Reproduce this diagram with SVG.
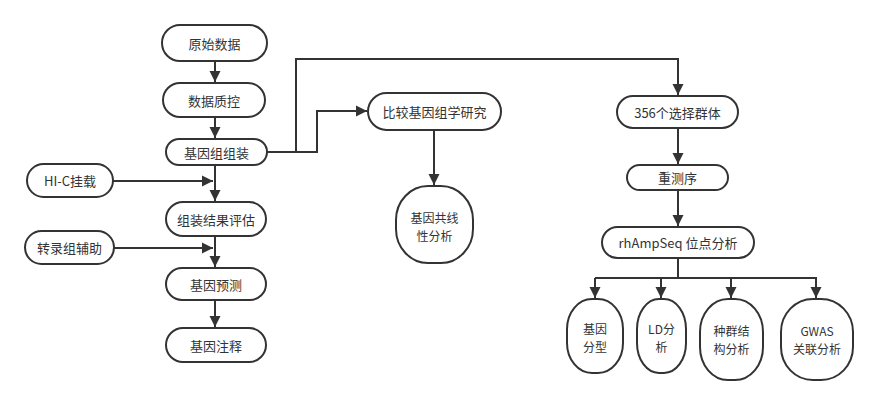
<svg xmlns="http://www.w3.org/2000/svg" width="877" height="406" viewBox="0 0 877 406">
<style>
.n{fill:#fff;stroke:#333;stroke-width:2}
.t{font-family:"Noto Sans CJK SC","Microsoft YaHei",sans-serif;font-size:13px;fill:#333;text-anchor:middle;dominant-baseline:central}
.s{font-size:12px}
.c{fill:none;stroke:#333;stroke-width:2}
</style>
<defs>
<marker id="a" markerUnits="userSpaceOnUse" markerWidth="12" markerHeight="12" viewBox="0 0 12 12" refX="11" refY="6" orient="auto">
<path d="M0,0.5 L11,6 L0,11.5 Z" fill="#333"/>
</marker>
</defs>
<rect width="877" height="406" fill="#fff"/>
<g id="connectors">
<path class="c" d="M215,61 V82" marker-end="url(#a)"/>
<path class="c" d="M215,117 V138" marker-end="url(#a)"/>
<path class="c" d="M215,165 V201" marker-end="url(#a)"/>
<path class="c" d="M113,181 H213" marker-end="url(#a)"/>
<path class="c" d="M215,236 V267" marker-end="url(#a)"/>
<path class="c" d="M114,248 H213" marker-end="url(#a)"/>
<path class="c" d="M215,300 V327" marker-end="url(#a)"/>
<path class="c" d="M267,152 H296 V59 H678 V95" marker-end="url(#a)"/>
<path class="c" d="M296,152 H317 V111 H367" marker-end="url(#a)"/>
<path class="c" d="M434,130 V185" marker-end="url(#a)"/>
<path class="c" d="M678,128 V164" marker-end="url(#a)"/>
<path class="c" d="M678,190 V226" marker-end="url(#a)"/>
<path class="c" d="M678,258 V278"/>
<path class="c" d="M595,278 H816 V298" marker-end="url(#a)"/>
<path class="c" d="M595,278 V298" marker-end="url(#a)"/>
<path class="c" d="M661,278 V298" marker-end="url(#a)"/>
<path class="c" d="M731,278 V298" marker-end="url(#a)"/>
</g>
<g id="n1"><rect class="n" x="162" y="25" width="105" height="36" rx="18"/><text class="t" x="214.5" y="43">原始数据</text></g>
<g id="n2"><rect class="n" x="163" y="83" width="102" height="34" rx="17"/><text class="t" x="214" y="100">数据质控</text></g>
<g id="n3"><rect class="n" x="166" y="139" width="101" height="26" rx="13"/><text class="t" x="216.5" y="152">基因组组装</text></g>
<g id="n4"><rect class="n" x="27" y="164" width="86" height="33" rx="16.5"/><text class="t" x="70" y="180.5">HI-C挂载</text></g>
<g id="n5"><rect class="n" x="166" y="202" width="100" height="34" rx="17"/><text class="t" x="216" y="219">组装结果评估</text></g>
<g id="n6"><rect class="n" x="25" y="231" width="89" height="33" rx="16.5"/><text class="t" x="69.5" y="247.5">转录组辅助</text></g>
<g id="n7"><rect class="n" x="166" y="268" width="100" height="32" rx="16"/><text class="t" x="216" y="284">基因预测</text></g>
<g id="n8"><rect class="n" x="166" y="328" width="100" height="34" rx="17"/><text class="t" x="216" y="345">基因注释</text></g>
<g id="n9"><rect class="n" x="368" y="93" width="133" height="37" rx="18.5"/><text class="t" x="434.5" y="111.5">比较基因组学研究</text></g>
<g id="n10"><rect class="n" x="396" y="186" width="77" height="77" rx="32" ry="34"/><text class="t s" x="434.5" y="217.5">基因共线</text><text class="t s" x="434.5" y="235.5">性分析</text></g>
<g id="n11"><rect class="n" x="617" y="96" width="121" height="32" rx="16"/><text class="t" x="677.5" y="112">356个选择群体</text></g>
<g id="n12"><rect class="n" x="627" y="165" width="101" height="25" rx="12.5"/><text class="t" x="677.5" y="177.5">重测序</text></g>
<g id="n13"><rect class="n" x="602" y="227" width="152" height="31" rx="15.5"/><text class="t" x="678" y="242.5">rhAmpSeq 位点分析</text></g>
<g id="n14"><rect class="n" x="567" y="299" width="56" height="74" rx="25" ry="30"/><text class="t s" x="595" y="328.5">基因</text><text class="t s" x="595" y="346.5">分型</text></g>
<g id="n15"><rect class="n" x="637" y="299" width="49" height="74" rx="22" ry="30"/><text class="t s" x="661.5" y="328.5">LD分</text><text class="t s" x="661.5" y="346.5">析</text></g>
<g id="n16"><rect class="n" x="700" y="299" width="63" height="81" rx="28" ry="33"/><text class="t s" x="731.5" y="330.5">种群结</text><text class="t s" x="731.5" y="348.5">构分析</text></g>
<g id="n17"><rect class="n" x="781" y="299" width="72" height="81" rx="32" ry="33"/><text class="t s" x="817" y="330.5">GWAS</text><text class="t s" x="817" y="348.5">关联分析</text></g>
</svg>
